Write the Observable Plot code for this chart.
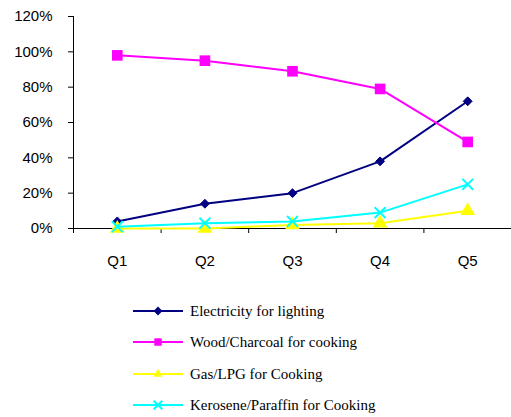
<!DOCTYPE html>
<html><head><meta charset="utf-8">
<script src="https://cdn.jsdelivr.net/npm/d3@7"></script>
<script src="https://cdn.jsdelivr.net/npm/@observablehq/plot@0.6"></script>
<style>
body{margin:0;background:#fff;}
#legend{position:relative;height:137px;color:#000;}
.row{position:absolute;left:133px;height:20px;display:flex;align-items:center;font-family:"Liberation Serif","Times New Roman",Times,"DejaVu Serif",serif;font-size:15px;}
.row span{margin-left:7px;}
</style></head>
<body>
<div id="chart"></div>
<div id="legend"></div>
<script>
const categories = ["Q1","Q2","Q3","Q4","Q5"];
const seriesNames = ["Electricity for lighting","Wood/Charcoal for cooking","Gas/LPG for Cooking","Kerosene/Paraffin for Cooking"];
const electricity = [4,14,20,38,72];
const wood = [98,95,89,79,49];
const gas = [0,0,2,3,10];
const kerosene = [1,3,4,9,25];
const yTicks = [0,20,40,60,80,100,120];

const colors = ["#000080","#FF00FF","#FFFF00","#00FFFF"];
const symbols = ["diamond2","square","triangle","times"];
const radii = [4,6,5.5,5];
const allValues = [electricity, wood, gas, kerosene];

const data = [];
allValues.forEach((vals,s)=>vals.forEach((v,i)=>data.push({series:seriesNames[s], idx:i+1, q:categories[i], v})));

const marks = [
  Plot.axisY({ticks:yTicks, tickFormat:d=>d+"%", tickSize:5, tickPadding:16, fontSize:15, label:null}),
  Plot.axisX({ticks:d3.range(0.5,categories.length+1,1), tickFormat:()=>"", tickSize:5, label:null}),
  Plot.axisX({ticks:d3.range(1,categories.length+1), tickFormat:d=>categories[d-1], tickSize:0, tickPadding:27, fontSize:15, label:null}),
  Plot.ruleX([0.5],{stroke:"#000"}),
  Plot.ruleY([0],{stroke:"#000"})
];
seriesNames.forEach((name,s)=>{
  const d = data.filter(r=>r.series===name);
  marks.push(Plot.line(d,{x:"idx",y:"v",stroke:colors[s],strokeWidth:2}));
  if (symbols[s]==="times") {
    marks.push(Plot.dot(d,{x:"idx",y:"v",symbol:"times",stroke:colors[s],strokeWidth:2,r:radii[s]}));
  } else {
    marks.push(Plot.dot(d,{x:"idx",y:"v",symbol:symbols[s],fill:colors[s],stroke:s===0?colors[s]:"none",strokeWidth:1,r:radii[s]}));
  }
});

const chart = Plot.plot({
  width:511, height:280,
  marginLeft:73, marginRight:0, marginTop:16, marginBottom:52,
  style:{fontFamily:"'Liberation Sans', Arial, sans-serif", fontSize:"15px", color:"#000", background:"#fff"},
  x:{type:"linear", domain:[0.5, categories.length+0.5], axis:null},
  y:{domain:[0,120], axis:null},
  marks
});
document.getElementById("chart").appendChild(chart);

// legend
const legend = document.getElementById("legend");
const rowsY = [31, 62, 94, 125];
seriesNames.forEach((name,s)=>{
  const row = document.createElement("div");
  row.className="row";
  row.style.top=(rowsY[s]-10)+"px";
  const svg = d3.create("svg").attr("width",50).attr("height",20);
  svg.append("line").attr("x1",0).attr("x2",50).attr("y1",10).attr("y2",10).attr("stroke",colors[s]).attr("stroke-width",2);
  const sym = {diamond2:d3.symbolDiamond2, square:d3.symbolSquare2, triangle:d3.symbolTriangle2, times:d3.symbolTimes}[symbols[s]];
  const size = [50,70,60,50][s];
  const p = svg.append("path").attr("transform","translate(25,10)").attr("d",d3.symbol(sym, size)());
  if (symbols[s]==="times") p.attr("fill","none").attr("stroke",colors[s]).attr("stroke-width",2);
  else p.attr("fill",colors[s]);
  row.appendChild(svg.node());
  const t=document.createElement("span"); t.textContent=name; row.appendChild(t);
  legend.appendChild(row);
});
</script>
</body></html>
